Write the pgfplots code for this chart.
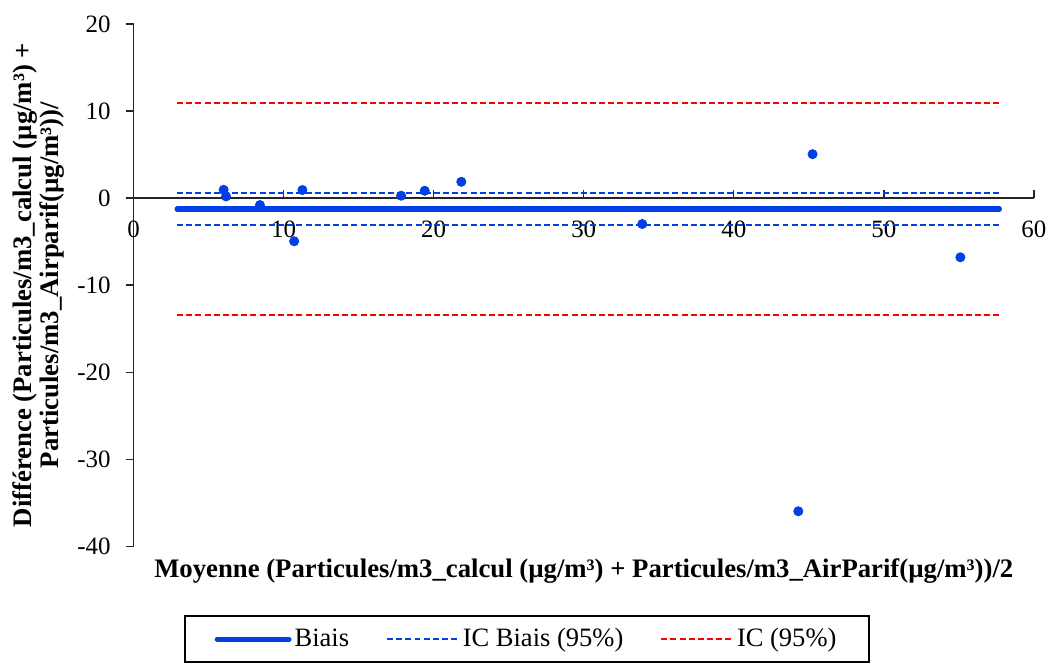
\documentclass[border=0pt]{standalone}
\usepackage{fontspec}
\setmainfont{Liberation Serif}
\usepackage{pgfplots}
\pgfplotsset{compat=1.18}
\definecolor{cblue}{RGB}{0,64,230}
\definecolor{cred}{RGB}{255,0,0}
\begin{document}
\fontsize{13}{14}\selectfont
\begin{tikzpicture}
\begin{axis}[
  at={(0,0)}, anchor=south west,
  scale only axis, width=451.5pt, height=262pt,
  xmin=0, xmax=60, ymin=-40, ymax=20,
  axis x line=middle, axis y line=left,
  hide obscured x ticks=false, hide obscured y ticks=false,
  axis line style={-, black!85, line width=0.7pt},
  xtick={0,10,...,60}, ytick={-40,-30,...,20},
  major tick length=4pt,
  tick style={black!85, line width=0.7pt},
  xtick align=inside, ytick align=outside,
  tick label style={font=\fontsize{12.5}{14}\selectfont},
  xticklabel style={anchor=north, yshift=-7pt},
  yticklabel style={anchor=east, xshift=-3pt},
  /pgf/number format/assume math mode=true,
  xlabel={Moyenne (Particules/m3\_calcul (µg/m³) + Particules/m3\_AirParif(µg/m³))/2},
  xlabel style={at={(axis description cs:0.5,0)}, anchor=center, yshift=-12.5pt, font=\bfseries\fontsize{13.4}{14}\selectfont},
  ylabel={Différence (Particules/m3\_calcul (µg/m³) +\\ Particules/m3\_Airparif(µg/m³))/},
  ylabel style={at={(axis description cs:-0.1052,0.5)}, anchor=center, align=center, font=\bfseries\fontsize{13.4}{11.5}\selectfont},
  legend columns=3,
  legend style={at={(0.437,-0.1317)}, anchor=north, draw=black, line width=1pt,
    font=\fontsize{13.3}{14}\selectfont, inner xsep=15pt, inner ysep=4pt,
    nodes={inner xsep=1.5pt},
    /tikz/every even column/.append style={column sep=17pt}},
  legend image code/.code={\draw[#1] (0pt,0pt) -- (36pt,0pt);},
  clip=false,
]
\addplot[cblue, line width=2.6pt, line cap=round, forget plot] coordinates {(2.9,-1.26) (57.7,-1.26)};
\addplot[cblue, line width=1pt, dash pattern=on 3pt off 1.6pt, forget plot] coordinates {(2.9,0.57) (57.7,0.57)};
\addplot[cblue, line width=1pt, dash pattern=on 3pt off 1.6pt, forget plot] coordinates {(2.9,-3.12) (57.7,-3.12)};
\addplot[cred, line width=1pt, dash pattern=on 3pt off 1.6pt, forget plot] coordinates {(2.9,10.88) (57.7,10.88)};
\addplot[cred, line width=1pt, dash pattern=on 3pt off 1.6pt, forget plot] coordinates {(2.9,-13.4) (57.7,-13.4)};
\addplot[only marks, mark=*, mark size=2.3pt, cblue, forget plot] coordinates {
 (6.0,0.95) (6.16,0.19) (8.42,-0.8) (11.25,0.92) (10.7,-4.96) (17.83,0.27)
 (19.4,0.84) (21.84,1.87) (33.9,-2.98) (45.25,5.04) (55.1,-6.8) (44.3,-35.97)};
\addlegendimage{cblue, line width=2.6pt, line cap=round}
\addlegendentry{Biais}
\addlegendimage{cblue, line width=1pt, dash pattern=on 3pt off 1.6pt}
\addlegendentry{IC Biais (95\%)}
\addlegendimage{cred, line width=1pt, dash pattern=on 3pt off 1.6pt}
\addlegendentry{IC (95\%)}
\end{axis}
\useasboundingbox (-67pt,-54pt) rectangle (460.5pt,274pt);
\end{tikzpicture}
\end{document}
